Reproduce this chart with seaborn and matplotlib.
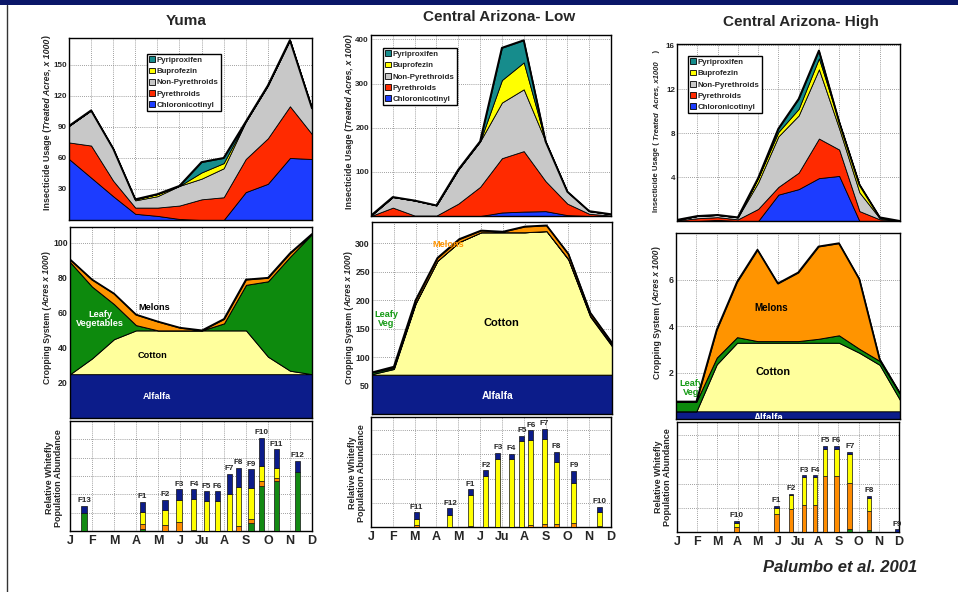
import matplotlib
matplotlib.use("Agg")
import matplotlib.pyplot as plt
from matplotlib.patches import Patch, Rectangle
from matplotlib.lines import Line2D
import numpy as np
import seaborn as sns

W, H = 958, 592

MONTHS = ["J", "F", "M", "A", "M", "J", "Ju", "A", "S", "O", "N", "D"]
INSECT_NAMES = ["Chloronicotinyl", "Pyrethroids", "Non-Pyrethroids", "Buprofezin", "Pyriproxifen"]
CROP_NAMES = ["Alfalfa", "Cotton", "Leafy Vegetables", "Melons"]
PANEL_TITLES = ["Yuma", "Central Arizona- Low", "Central Arizona- High"]

# ---------------- insecticide usage (treated acres x1000) ----------------
yuma_chloro = [59, 41, 23, 6, 4, 1, 0, 0, 27, 35, 60, 59]
yuma_pyreth = [16, 31, 15, 6, 8, 13, 20, 22, 32, 44, 50, 24]
yuma_nonpyr = [16, 34, 31, 7, 11, 19, 20, 28, 36, 51, 64, 25]
yuma_bupro = [0, 0, 0, 1, 2, 0, 6, 5, 0, 0, 0, 0]
yuma_pyripx = [0, 0, 0, 0, 0, 0, 10, 5, 0, 0, 0, 0]

low_chloro = [0, 0, 0, 0, 0, 0, 8, 10, 11, 2, 0, 0]
low_pyreth = [0, 19, 1, 1, 28, 66, 123, 137, 68, 26, 5, 1]
low_nonpyr = [1, 24, 34, 23, 77, 103, 126, 140, 90, 27, 6, 3]
low_bupro = [0, 0, 0, 0, 0, 0, 51, 61, 0, 0, 0, 0]
low_pyripx = [0, 0, 0, 0, 0, 0, 73, 50, 0, 0, 0, 0]

high_chloro = [0, 0, 0.1, 0, 0, 2.4, 2.9, 3.9, 4.1, 0, 0, 0]
high_pyreth = [0.05, 0.25, 0.25, 0.15, 1.1, 0.7, 1.5, 3.6, 2.4, 0.9, 0.15, 0]
high_nonpyr = [0.05, 0.2, 0.2, 0.18, 2.4, 4.6, 5.2, 6.3, 1.9, 1.7, 0.1, 0]
high_bupro = [0, 0, 0, 0, 0.4, 0.4, 0.6, 1.0, 0.6, 0.7, 0.08, 0]
high_pyripx = [0, 0, 0, 0, 0, 0.3, 0.9, 0.7, 0, 0, 0, 0]

# ---------------- cropping system (acres x1000) ----------------
yuma_alfalfa = [25] * 12
yuma_cotton = [0, 9, 20, 25, 25, 25, 25, 25, 25, 10, 2, 0]
yuma_leafy = [64, 41, 20, 3, 0, 0, 0, 4, 26, 43, 65, 80]
yuma_melons = [1.5, 4, 6, 6, 5, 1.5, 0, 2.5, 3, 2, 2, 0]

low_alfalfa = [69] * 12
low_cotton = [1, 10, 125, 200, 233, 250, 250, 250, 252, 202, 102, 50]
low_leafy = [3, 2, 1, 0, 0, 0, 0, 0, 0, 1, 2, 3]
low_melons = [0, 2, 5, 5, 5, 3, 1, 10, 10, 9, 5, 3]

high_alfalfa = [0.33] * 12
high_cotton = [0, 0, 2.02, 2.95, 2.95, 2.95, 2.95, 2.95, 2.95, 2.52, 2.0, 0.49]
high_leafy = [0.42, 0.42, 0.29, 0.24, 0.07, 0.07, 0.07, 0.17, 0.32, 0.17, 0.17, 0.28]
high_melons = [0, 0, 1.2, 2.38, 3.93, 2.48, 2.95, 3.97, 3.96, 3.0, 0.07, 0]

# ---------------- relative whitefly abundance (stacked by host) ----------------
yuma_gen = ["F13", "F1", "F2", "F3", "F4", "F5", "F6", "F7", "F8", "F9", "F10", "F11", "F12"]
yuma_gen_month = [0.64, 3.30, 4.32, 4.95, 5.62, 6.21, 6.71, 7.24, 7.65, 8.23, 8.71, 9.39, 10.35]
yuma_wf_leafy = [1.0, 0.11, 0, 0, 0, 0, 0, 0, 0, 0.44, 2.47, 2.73, 3.2]
yuma_wf_melon = [0, 0.29, 0.31, 0.49, 0.07, 0, 0, 0, 0.25, 0.24, 0.26, 0.18, 0]
yuma_wf_cotton = [0, 0.64, 0.85, 1.22, 1.65, 1.64, 1.64, 2.04, 2.15, 1.64, 0.80, 0.53, 0]
yuma_wf_alfalfa = [0.36, 0.55, 0.55, 0.56, 0.55, 0.53, 0.53, 1.09, 1.05, 1.04, 1.56, 1.02, 0.62]

low_gen = ["F11", "F12", "F1", "F2", "F3", "F4", "F5", "F6", "F7", "F8", "F9", "F10"]
low_gen_month = [2.09, 3.62, 4.54, 5.26, 5.81, 6.42, 6.91, 7.32, 7.94, 8.51, 9.29, 10.49]
low_wf_leafy = [0, 0, 0, 0, 0, 0, 0, 0, 0, 0, 0, 0]
low_wf_melon = [0.07, 0, 0.04, 0, 0, 0, 0, 0.07, 0.11, 0.11, 0.15, 0.04]
low_wf_cotton = [0.28, 0.51, 1.29, 2.12, 2.83, 2.81, 3.54, 3.52, 3.55, 2.56, 1.69, 0.56]
low_wf_alfalfa = [0.26, 0.26, 0.23, 0.23, 0.23, 0.23, 0.23, 0.41, 0.41, 0.44, 0.48, 0.23]

high_gen = ["F10", "F1", "F2", "F3", "F4", "F5", "F6", "F7", "F8", "F9"]
high_gen_month = [2.95, 4.93, 5.64, 6.30, 6.83, 7.34, 7.91, 8.56, 9.52, 10.9]
high_wf_leafy = [0, 0, 0, 0, 0, 0, 0, 0.14, 0.08, 0]
high_wf_melon = [0.19, 0.73, 0.94, 1.12, 1.12, 2.32, 2.32, 1.90, 0.80, 0]
high_wf_cotton = [0.17, 0.28, 0.57, 1.14, 1.14, 1.13, 1.13, 1.17, 0.54, 0]
high_wf_alfalfa = [0.10, 0.07, 0.08, 0.08, 0.08, 0.11, 0.11, 0.10, 0.07, 0.11]

INSECT_COLORS = ["#1c3cff", "#ff2a00", "#c8c8c8", "#ffff00", "#168c8c"]
CROP_COLORS = ["#0c1c8a", "#ffff9c", "#0d8a0d", "#ff9400"]
BAR_COLORS = ["#138a13", "#ff8c00", "#ffff00", "#0c1c8a"]

sns.set_theme(style="whitegrid")
plt.rcParams["font.family"] = ["Liberation Sans", "DejaVu Sans"]
plt.rcParams["font.weight"] = "bold"
plt.rcParams["axes.labelweight"] = "bold"

fig = plt.figure(figsize=(W / 100, H / 100), dpi=100)
fig.patch.set_facecolor("white")

# slide decoration
fig.patches.append(Rectangle((0, 1 - 5 / H), 1, 5 / H, transform=fig.transFigure,
                             facecolor="#0a1668", edgecolor="none"))
fig.lines.append(Line2D([6.5 / W, 6.5 / W], [0, 1 - 5 / H], transform=fig.transFigure,
                        color="#333333", linewidth=1.0))


def add_ax(l, t, r, b):
    return fig.add_axes([l / W, 1 - b / H, (r - l) / W, (b - t) / H])


def style_ax(ax):
    ax.set_facecolor("white")
    ax.grid(True, color="#808080", linestyle=(0, (1, 1.5)), linewidth=0.6)
    ax.set_axisbelow(True)
    for s in ax.spines.values():
        s.set_color("black")
        s.set_linewidth(1.0)
        s.set_visible(True)
    ax.tick_params(axis="both", length=0, pad=1.5)
    ax.set_xlim(0, 11)
    ax.set_xticks(np.arange(12))


def insect_panel(ax, layers, ymax, yticks, anchor):
    style_ax(ax)
    x = np.arange(12)
    ax.stackplot(x, *layers, colors=INSECT_COLORS, edgecolor="black", linewidth=0.6, zorder=2)
    total = np.sum(np.array(layers, dtype=float), axis=0)
    sns.lineplot(x=x, y=total, color="black", linewidth=1.4, ax=ax, zorder=3)
    ax.set_ylim(0, ymax)
    ax.set_yticks(yticks)
    ax.set_xticklabels([])
    ax.tick_params(axis="y", labelsize=5.8)
    ax.set_xlabel("")
    ax.set_ylabel("")
    handles = [Patch(facecolor=c, edgecolor="black", linewidth=0.6, label=n)
               for n, c in zip(INSECT_NAMES, INSECT_COLORS)][::-1]
    leg = ax.legend(handles=handles, loc="upper left", bbox_to_anchor=anchor, frameon=True,
                    fancybox=False, edgecolor="black", framealpha=1,
                    prop={"weight": "bold", "size": 5.7}, handlelength=0.75, handleheight=0.75,
                    handletextpad=0.2, labelspacing=0.45, borderpad=0.3, borderaxespad=0)
    leg.get_frame().set_linewidth(1.0)
    leg.set_zorder(10)


def crop_panel(ax, layers, ymax, yticks):
    style_ax(ax)
    x = np.arange(12)
    ax.stackplot(x, *layers, colors=CROP_COLORS, edgecolor="black", linewidth=0.7, zorder=2)
    total = np.sum(np.array(layers, dtype=float), axis=0)
    sns.lineplot(x=x, y=total, color="black", linewidth=1.3, ax=ax, zorder=3)
    ax.set_ylim(0, ymax)
    ax.set_yticks(yticks)
    ax.set_xticklabels([])
    ax.tick_params(axis="y", labelsize=6.3)
    ax.set_xlabel("")
    ax.set_ylabel("")


def bar_panel(ax, pos, labels, segs, ymax, ngrid, width):
    style_ax(ax)
    pos = np.asarray(pos, float)
    bottom = np.zeros(len(pos))
    for seg, c in zip(segs, BAR_COLORS):
        seg = np.asarray(seg, float)
        m = seg > 0
        ax.bar(pos[m], seg[m], bottom=bottom[m], width=width, color=c,
               edgecolor="#111111", linewidth=0.5, zorder=3)
        bottom += seg
    for p, t, lab in zip(pos, bottom, labels):
        ax.annotate(lab, (p, t), xytext=(0, 1.2), textcoords="offset points", ha="center",
                    va="bottom", fontsize=5.8, fontweight="bold", zorder=4)
    ax.set_ylim(0, ymax)
    ax.set_yticks(np.arange(0, ngrid + 1))
    ax.set_yticklabels([])
    ax.set_xticklabels(MONTHS, fontsize=9, fontweight="bold")
    ax.tick_params(axis="x", pad=3)


# ---------------- axes ----------------
ax_yt = add_ax(69, 38, 312, 220)
ax_ym = add_ax(70, 227, 312, 418)
ax_yb = add_ax(70, 421, 312, 531)
ax_lt = add_ax(371, 35, 611, 216)
ax_lm = add_ax(372, 222, 612, 414)
ax_lb = add_ax(371, 417, 611, 527)
ax_ht = add_ax(677, 44, 900, 221)
ax_hm = add_ax(676, 233, 900, 419)
ax_hb = add_ax(677, 422, 899, 532)

insect_panel(ax_yt, [yuma_chloro, yuma_pyreth, yuma_nonpyr, yuma_bupro, yuma_pyripx],
             176, [30, 60, 90, 120, 150], (0.32, 0.912))
insect_panel(ax_lt, [low_chloro, low_pyreth, low_nonpyr, low_bupro, low_pyripx],
             410, [100, 200, 300, 400], (0.05, 0.928))
insect_panel(ax_ht, [high_chloro, high_pyreth, high_nonpyr, high_bupro, high_pyripx],
             16.1, [4, 8, 12, 16], (0.049, 0.932))

crop_panel(ax_ym, [yuma_alfalfa, yuma_cotton, yuma_leafy, yuma_melons], 109, [20, 40, 60, 80, 100])
crop_panel(ax_lm, [low_alfalfa, low_cotton, low_leafy, low_melons], 337, [50, 100, 150, 200, 250, 300])
crop_panel(ax_hm, [high_alfalfa, high_cotton, high_leafy, high_melons], 8, [2, 4, 6])

bar_panel(ax_yb, yuma_gen_month, yuma_gen,
          [yuma_wf_leafy, yuma_wf_melon, yuma_wf_cotton, yuma_wf_alfalfa], 6, 6, 0.24)
bar_panel(ax_lb, low_gen_month, low_gen,
          [low_wf_leafy, low_wf_melon, low_wf_cotton, low_wf_alfalfa], 4.55, 4, 0.23)
bar_panel(ax_hb, high_gen_month, high_gen,
          [high_wf_leafy, high_wf_melon, high_wf_cotton, high_wf_alfalfa], 4.55, 4, 0.23)

# ---------------- crop labels inside the cropping panels ----------------
kw = dict(ha="center", va="center", fontweight="bold", zorder=5)
ax_ym.text(3.82, 62.8, "Melons", fontsize=6.6, color="black", **kw)
ax_ym.text(1.36, 56.5, "Leafy\nVegetables", fontsize=6.6, color="white", linespacing=1.1, **kw)
ax_ym.text(3.73, 35.4, "Cotton", fontsize=6.6, color="black", **kw)
ax_ym.text(3.95, 12, "Alfalfa", fontsize=6.6, color="white", **kw)

ax_lm.text(3.49, 298, "Melons", fontsize=6.6, color="#ff9400", **kw)
ax_lm.text(0.64, 167, "Leafy\nVeg", fontsize=6.6, color="#159a15", linespacing=1.1, **kw)
ax_lm.text(5.92, 160, "Cotton", fontsize=8, color="black", **kw)
ax_lm.text(5.78, 31.6, "Alfalfa", fontsize=7.5, color="white", **kw)

ax_hm.text(4.67, 4.77, "Melons", fontsize=7, color="black", **kw)
ax_hm.text(4.76, 2.02, "Cotton", fontsize=7.8, color="black", **kw)
ax_hm.text(0.74, 1.33, "Leafy\nVeg", fontsize=6.6, color="#159a15", linespacing=1.1,
           ha="center", va="center", fontweight="bold", zorder=1.5)
ax_hm.text(4.57, 0.05, "Alfalfa", fontsize=7, color="white", ha="center", va="center",
           fontweight="bold", zorder=5, clip_on=True)

# ---------------- titles ----------------
for title, xc, yb in zip(PANEL_TITLES, [186, 499, 801], [25, 21, 26]):
    fig.text(xc / W, 1 - yb / H, title, ha="center", va="baseline", fontsize=11, fontweight="bold")

fig.text(917 / W, 1 - 572 / H, "Palumbo et al. 2001", ha="right", va="baseline", fontsize=12,
         fontweight="bold", fontstyle="italic")

# ---------------- y labels (mixed upright / italic) ----------------
renderer = fig.canvas.get_renderer()


def vlabel(parts, x_px, yc_px, size):
    texts = [fig.text(0, 0, s, rotation=90, fontsize=size, fontweight="bold", fontstyle=st,
                      ha="center", va="bottom") for s, st in parts]
    hs = [t.get_window_extent(renderer=renderer).height for t in texts]
    y0 = H - yc_px - sum(hs) / 2
    for t, h in zip(texts, hs):
        t.set_position((x_px / W, y0 / H))
        y0 += h


top_parts = [("Insecticide Usage (", "normal"), ("Treated Acres, x 1000", "italic"), (")", "normal")]
vlabel(top_parts, 47, 123, 6.4)
vlabel(top_parts, 349, 122, 6.4)
vlabel([("Insecticide Usage ( ", "normal"), ("Treated  Acres, x1000", "italic"), ("    )", "normal")],
       657, 131, 5.6)
mid_parts = [("Cropping System (", "normal"), ("Acres x 1000", "italic"), (")", "normal")]
vlabel(mid_parts, 47, 318, 6.2)
vlabel(mid_parts, 349, 318, 6.2)
vlabel(mid_parts, 657, 313, 6.2)
for xc, yc in [(54, 478), (357, 473), (663, 477)]:
    fig.text(xc / W, 1 - yc / H, "Relative Whitefly\nPopulation Abundance", rotation=90,
             ha="center", va="center", fontsize=6.5, fontweight="bold", linespacing=1.0)

fig.savefig("out.png", dpi=100)
